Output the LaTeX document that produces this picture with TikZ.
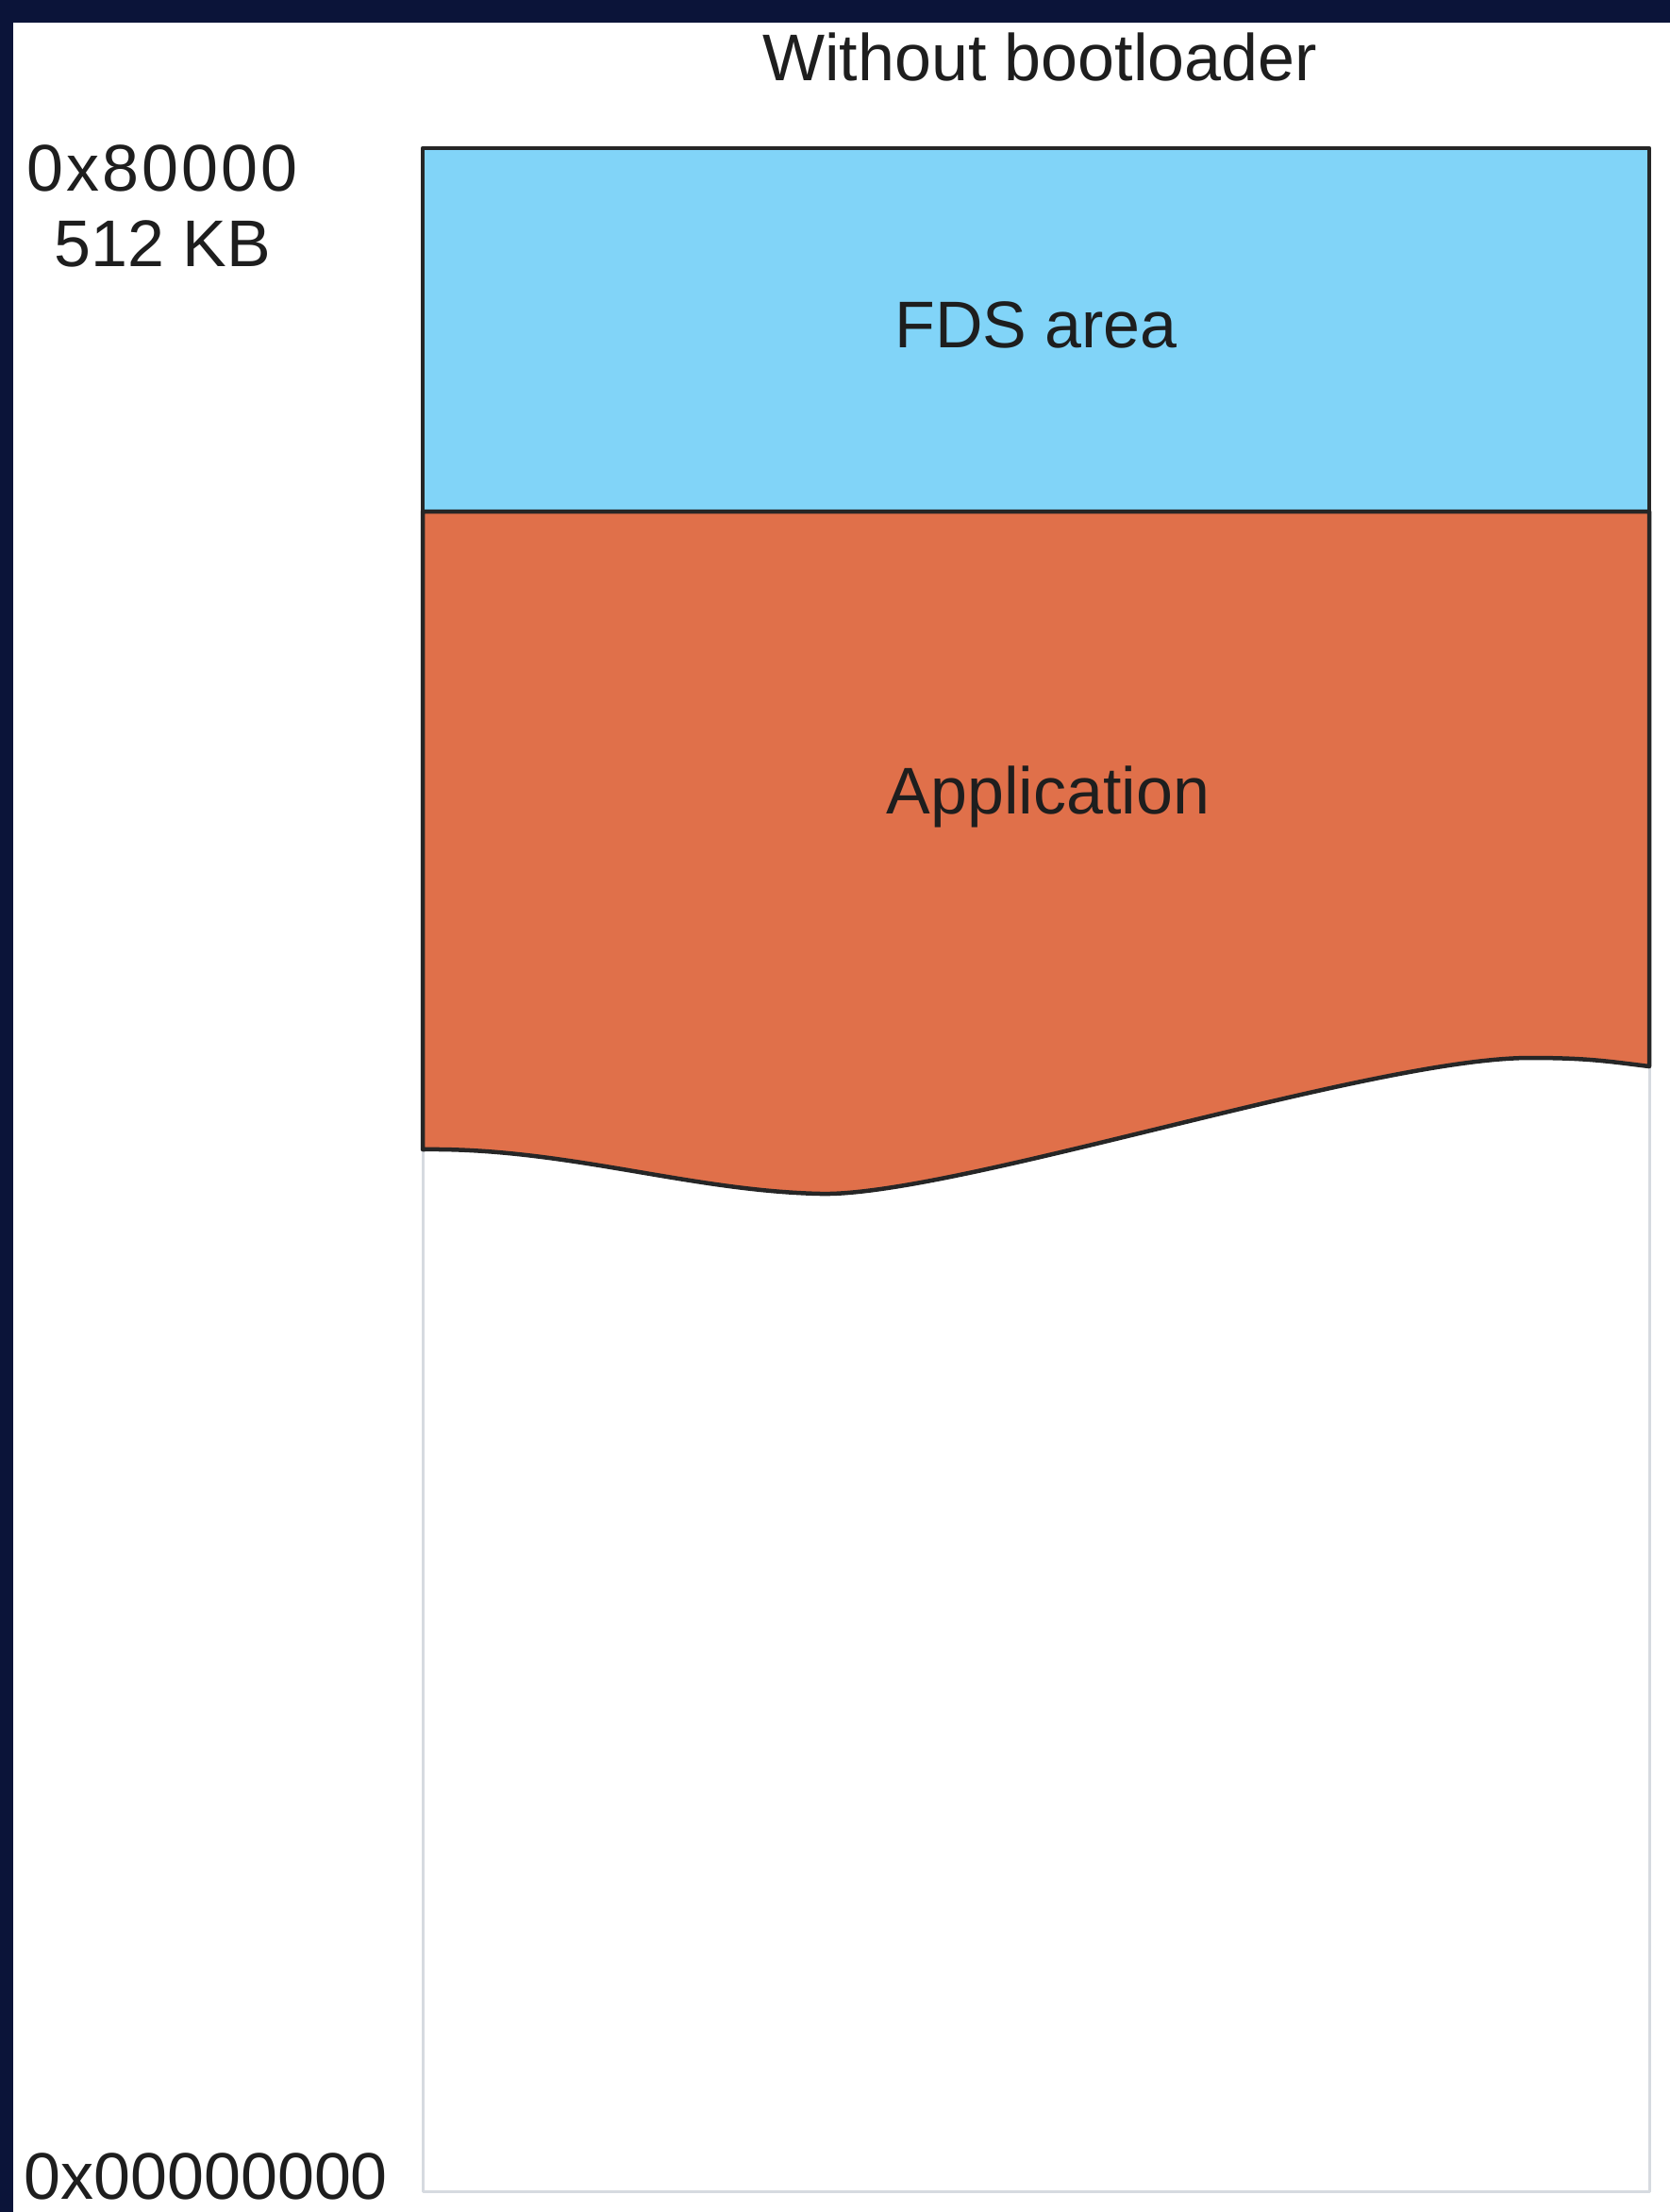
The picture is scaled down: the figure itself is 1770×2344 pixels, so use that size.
\documentclass[tikz,border=0pt]{standalone}
\usepackage{fontspec}
\setmainfont{Liberation Sans}
\definecolor{navy}{HTML}{0B1439}
\definecolor{fdsblue}{HTML}{81D4F8}
\definecolor{appred}{HTML}{E0704A}
\definecolor{rimgray}{HTML}{D6DAE0}
\definecolor{inkgray}{HTML}{1E1E1E}
\begin{document}
\begin{tikzpicture}[x=0.01cm,y=-0.01cm,line join=round,font=\fontsize{19.9}{23}\selectfont,
		lbl/.style={inner sep=0pt,text=inkgray},
		region/.style={draw=black!85,line width=0.045cm}]
	\useasboundingbox (0,0) rectangle (1770,2344);
	\fill[white] (0,0) rectangle (1770,2344);
	\fill[navy] (0,0) rectangle (1770,24);
	\fill[navy] (0,0) rectangle (14,2344);
	\draw[rimgray,line width=0.03cm] (448,157) rectangle (1748,2322);
	\draw[region,fill=fdsblue] (448,157) rectangle (1748,542);
	\draw[region,fill=appred] (448,542) -- (1748,542) -- (1748,1130)
		.. controls (1700,1124) and (1680,1121) .. (1620,1121)
		.. controls (1450,1122) and (1010,1268) .. (870,1265)
		.. controls (730,1262) and (600,1216) .. (448,1218) -- cycle;
	\node[lbl,anchor=base] (title) at (1102,85) {Without bootloader};
	\node[lbl,anchor=base] (fds) at (1098,368) {FDS area};
	\node[lbl,anchor=base] (app) at (1111,862) {Application};
	\node[lbl,anchor=base] (topaddr) at (172,202) {\addfontfeature{LetterSpace=4.5}0x80000};
	\node[lbl,anchor=base] (topsize) at (172,282) {512 KB};
	\node[lbl,anchor=base west] (baseaddr) at (25,2330) {0x00000000};
\end{tikzpicture}
\end{document}
